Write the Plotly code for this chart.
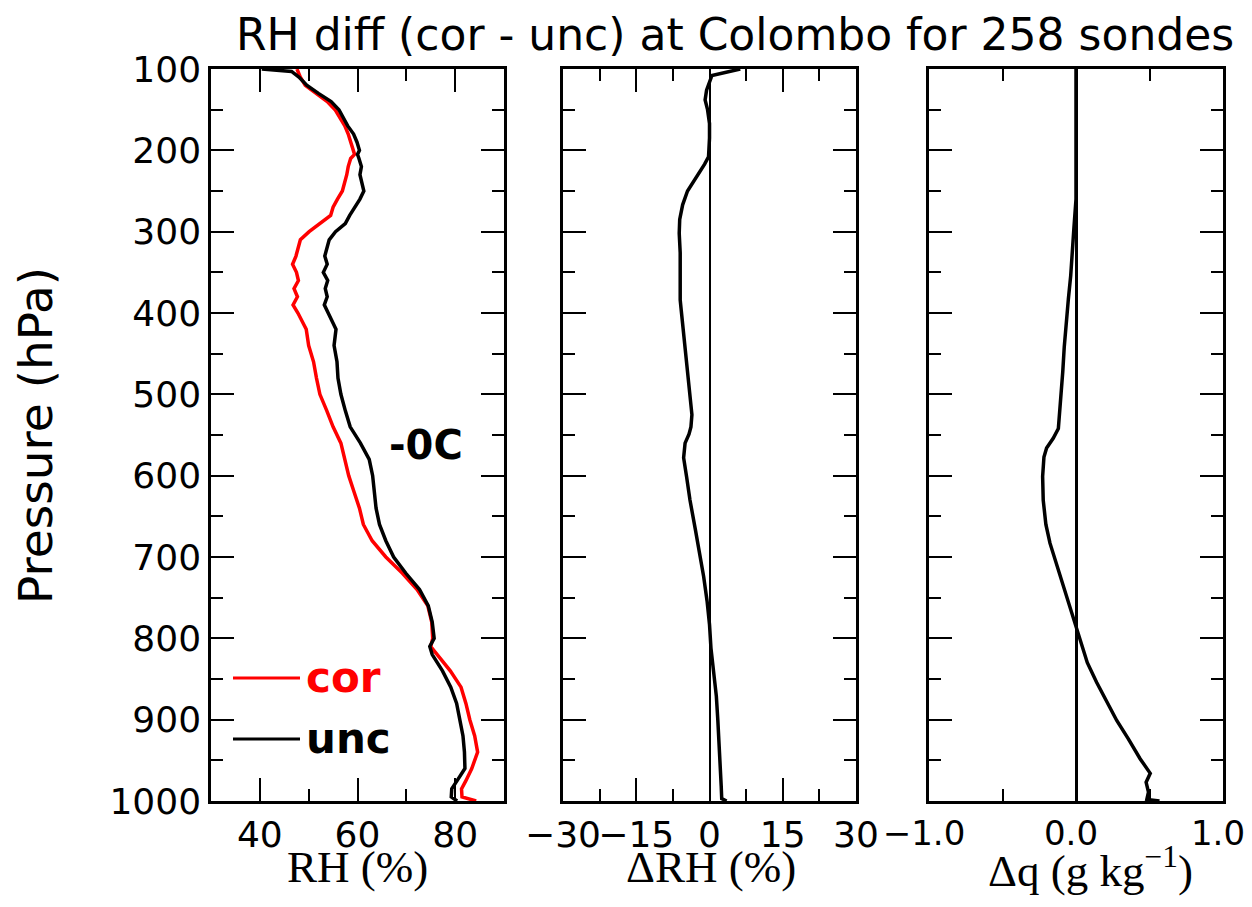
import plotly.graph_objects as go

# ---------------- data ----------------
pres_rh = [100, 103, 110, 120, 130, 140, 150, 160, 170, 180, 190, 200, 205, 210, 220, 230, 240,
           250, 260, 270, 280, 290, 300, 310, 320, 330, 340, 350, 360, 370, 380, 390, 400, 420,
           440, 460, 480, 500, 520, 540, 560, 580, 600, 620, 640, 660, 680, 700, 720, 740, 760,
           780, 800, 810, 820, 840, 860, 880, 900, 920, 940, 960, 975, 985, 995, 1000]
rh_unc = [40.4, 46.5, 48.0, 49.6, 52.0, 54.6, 56.2, 57.0, 58.0, 59.2, 59.9, 60.4, 60.0, 60.3, 60.8,
          60.5, 60.9, 61.3, 60.5, 59.4, 58.4, 57.5, 55.5, 54.2, 53.7, 53.3, 53.8, 53.0, 53.9, 53.4,
          53.8, 53.2, 54.0, 55.6, 55.2, 55.8, 56.0, 56.6, 57.5, 58.5, 60.6, 62.4, 63.1, 63.5, 63.8,
          64.5, 65.8, 67.4, 69.9, 72.7, 74.5, 75.3, 75.7, 74.8, 75.3, 77.4, 79.1, 80.3, 80.9, 81.6,
          81.9, 82.0, 80.4, 79.3, 79.2, 80.4]
rh_cor = [47.6, 47.8, 48.3, 49.3, 51.6, 53.8, 55.4, 56.4, 57.4, 58.1, 58.6, 59.0, 59.4, 58.6, 58.1,
          57.8, 57.3, 56.9, 55.9, 55.0, 54.5, 52.4, 50.1, 48.3, 47.9, 47.4, 46.7, 47.5, 47.9, 47.0,
          47.7, 46.8, 47.8, 49.5, 50.0, 51.0, 51.6, 52.3, 53.7, 55.0, 56.6, 57.4, 58.2, 59.3, 60.4,
          61.2, 63.0, 65.8, 69.2, 72.2, 74.4, 75.2, 75.4, 75.0, 76.4, 79.0, 81.2, 82.2, 83.0, 84.0,
          84.6, 83.4, 82.2, 81.3, 81.4, 84.3]

pres_drh = [100, 104, 108, 126, 138, 150, 167, 185, 208, 217, 232, 250, 267, 285, 302, 326, 355,
            384, 396, 420, 443, 472, 502, 525, 540, 549, 560, 578, 601, 630, 666, 695, 724, 754,
            783, 812, 842, 871, 900, 930, 959, 982, 997, 1000]
drh = [6.3, 3.0, 0.5, -0.6, -0.9, -0.4, 0.0, 0.0, -0.2, -1.0, -2.6, -4.5, -5.5, -6.1, -6.2, -6.0,
       -6.0, -6.0, -5.8, -5.4, -5.0, -4.6, -4.1, -3.6, -3.8, -4.2, -5.0, -5.3, -4.7, -4.0, -2.9,
       -2.0, -1.2, -0.5, 0.0, 0.3, 0.8, 1.4, 1.7, 2.0, 2.3, 2.4, 2.5, 3.5]

pres_dq = [100, 260, 295, 325, 354, 383, 413, 442, 472, 501, 530, 542, 554, 566, 577, 601, 630,
           660, 683, 707, 736, 766, 786, 807, 830, 854, 877, 901, 924, 948, 966, 977, 989, 998, 1000]
dq = [0.0, 0.0, -0.014, -0.023, -0.036, -0.052, -0.068, -0.080, -0.090, -0.100, -0.110, -0.120,
      -0.155, -0.200, -0.218, -0.227, -0.223, -0.205, -0.177, -0.136, -0.086, -0.036, 0.0, 0.039,
      0.077, 0.140, 0.210, 0.277, 0.357, 0.436, 0.505, 0.477, 0.493, 0.482, 0.568]

title_text = "RH diff (cor - unc) at Colombo for 258 sondes"
x_titles = ["RH (%)", "ΔRH (%)", "Δq (g kg<sup>−1</sup>)"]
y_title = "Pressure (hPa)"

# ---------------- figure ----------------
# page has an 8px body margin, so the figure is sized to fit inside the window
OFF = 8
W, H = 1252 - 2 * OFF, 907 - 2 * OFF
def px(v):
    return (v - OFF) / W
def py(v):
    return 1 - (v - OFF) / H

fig = go.Figure()
fig.add_trace(go.Scatter(x=rh_cor, y=pres_rh, mode="lines", line=dict(color="#ff0000", width=3.5),
                         xaxis="x", yaxis="y", showlegend=False))
fig.add_trace(go.Scatter(x=rh_unc, y=pres_rh, mode="lines", line=dict(color="black", width=3.5),
                         xaxis="x", yaxis="y", showlegend=False))
fig.add_trace(go.Scatter(x=drh, y=pres_drh, mode="lines", line=dict(color="black", width=3.5),
                         xaxis="x2", yaxis="y2", showlegend=False))
fig.add_trace(go.Scatter(x=dq, y=pres_dq, mode="lines", line=dict(color="black", width=3.5),
                         xaxis="x3", yaxis="y3", showlegend=False))

tickfont = dict(family="DejaVu Sans", size=36, color="black")
common_axis = dict(showline=True, linecolor="black", linewidth=2.5, mirror="allticks",
                   ticks="inside", ticklen=23, tickwidth=2, tickcolor="black",
                   showgrid=False, automargin=False, tickangle=0)

ydom = [py(801), py(69)]
xdoms = [[px(211), px(504)], [px(563), px(856)], [px(929), px(1223)]]

def minor(d, t0):
    return dict(ticks="inside", ticklen=12, tickwidth=2, tickcolor="black", dtick=d, tick0=t0)

fig.update_layout(
    width=W, height=H, margin=dict(l=0, r=0, t=0, b=0, autoexpand=False),
    paper_bgcolor="white", plot_bgcolor="white",
    xaxis=dict(domain=xdoms[0], range=[30, 90], tick0=40, dtick=20, zeroline=False,
               minor=minor(10, 30), anchor="y", tickfont=tickfont, **common_axis),
    xaxis2=dict(domain=xdoms[1], range=[-30, 30], tick0=0, dtick=15,
                zeroline=True, zerolinecolor="black", zerolinewidth=2,
                minor=minor(7.5, 0), anchor="y2", tickfont=tickfont, **common_axis),
    xaxis3=dict(domain=xdoms[2], range=[-1, 1], tick0=0, dtick=1, tickformat=".1f",
                zeroline=True, zerolinecolor="black", zerolinewidth=2.5,
                ticklabeloverflow="allow", ticklabelshift=-5,
                tickfont=dict(family="DejaVu Sans", size=34, color="black"),
                minor=minor(0.5, 0), anchor="y3", **common_axis),
    yaxis=dict(domain=ydom, range=[1000, 100], tick0=100, dtick=100, zeroline=False,
               minor=minor(50, 100), anchor="x", tickfont=tickfont, **common_axis),
    yaxis2=dict(domain=ydom, range=[1000, 100], tick0=100, dtick=100, zeroline=False, showticklabels=False,
                minor=minor(50, 100), anchor="x2", matches="y", **common_axis),
    yaxis3=dict(domain=ydom, range=[1000, 100], tick0=100, dtick=100, zeroline=False, showticklabels=False,
                minor=minor(50, 100), anchor="x3", matches="y", **common_axis),
)

annots = []
annots.append(dict(text=title_text, x=px(735), y=py(35), xref="paper", yref="paper",
                   xanchor="center", yanchor="middle", showarrow=False,
                   font=dict(family="DejaVu Sans", size=44, color="black")))
annots.append(dict(text=y_title, x=px(35), y=py(436), xref="paper", yref="paper", textangle=-90,
                   xanchor="center", yanchor="middle", showarrow=False,
                   font=dict(family="DejaVu Sans", size=47, color="black")))
for t, cx in zip(x_titles, [357, 711, 1090]):
    annots.append(dict(text=t, x=px(cx), y=py(867), xref="paper", yref="paper",
                       xanchor="center", yanchor="middle", showarrow=False,
                       font=dict(family="Liberation Serif", size=45, color="black")))
# 0C level marker
annots.append(dict(text="-0C", x=74, y=562, xref="x", yref="y", xanchor="center", yanchor="middle",
                   showarrow=False, font=dict(family="DejaVu Sans", size=40, color="black", weight="bold")))
# legend
leg_items = [("cor", "#ff0000", 678), ("unc", "black", 739)]
shapes = []
for name, col, yy in leg_items:
    yd = (801 - yy) / 732
    shapes.append(dict(type="line", xref="x domain", yref="y domain", x0=(233 - 211) / 293,
                       x1=(300 - 211) / 293, y0=yd, y1=yd, line=dict(color=col, width=3)))
    annots.append(dict(text=name, xref="x domain", yref="y domain", x=(304 - 211) / 293, y=yd,
                       xanchor="left", yanchor="middle", showarrow=False,
                       font=dict(family="DejaVu Sans", size=42, color=col, weight="bold")))

fig.update_layout(annotations=annots, shapes=shapes)
fig.write_html("out.html")
